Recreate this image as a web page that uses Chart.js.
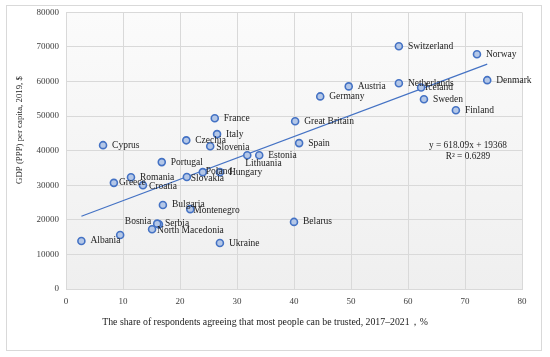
<!DOCTYPE html>
<html>
<head>
<meta charset="utf-8">
<script src="https://cdn.jsdelivr.net/npm/chart.js@4/dist/chart.umd.min.js"></script>
<style>
  html, body { margin: 0; padding: 0; background: #fff; }
  #wrap { width: 550px; height: 357px; }
</style>
</head>
<body>
<div id="wrap"><canvas id="myChart"></canvas></div>
<script>
const countries = ["Switzerland", "Norway", "Denmark", "Netherlands", "Iceland", "Austria", "Germany",
  "Sweden", "Finland", "France", "Great Britain", "Italy", "Czechia", "Slovenia", "Spain", "Cyprus",
  "Lithuania", "Estonia", "Portugal", "Poland", "Hungary", "Slovakia", "Romania", "Greece", "Croatia",
  "Bulgaria", "Montenegro", "Serbia", "Bosnia", "North Macedonia", "", "Albania", "Belarus", "Ukraine"];
const trust = [58.4, 72.1, 73.9, 58.4, 62.3, 49.6, 44.6, 62.8, 68.4, 26.1, 40.2, 26.5, 21.1, 25.3, 40.9, 6.5,
  31.8, 33.9, 16.8, 24.0, 27.0, 21.2, 11.4, 8.4, 13.5, 17.0, 21.8, 16.3, 16.0, 15.1, 9.5, 2.7, 40.0, 27.0];
const gdp = [70200, 67900, 60400, 59500, 58300, 58600, 55700, 54900, 51700, 49400, 48500, 44800, 43000, 41300,
  42200, 41600, 38700, 38700, 36700, 33800, 33800, 32400, 32300, 30700, 30000, 24300, 23100, 18700, 18900,
  17300, 15600, 13900, 19400, 13300];

// trendline as printed on the chart
const slope = 618.09;
const intercept = 19368;
const trendX = [2.7, 73.9];

const points = trust.map((x, i) => ({x: x, y: gdp[i], label: countries[i]}));
const trend = trendX.map(x => ({x: x, y: slope * x + intercept}));

const serif = "'Liberation Serif', 'DejaVu Serif', serif";

// label placement tweaks (dx, dy, align)
const labelPos = {
  "Bosnia": [-6, -2, "right"],
  "Lithuania": [-2, 8, "left"],
  "Slovakia": [4, 2, "left"],
  "Slovenia": [6, 1, "left"],
  "Serbia": [6, -1, "left"],
  "North Macedonia": [5, 1, "left"],
  "Croatia": [6, 1, "left"],
  "Greece": [5, 0, "left"],
  "Poland": [3, -1, "left"],
  "Montenegro": [3, 1, "left"],
  "Iceland": [4, 0, "left"]
};

const extras = {
  id: 'extras',
  beforeDraw(chart) {
    const ctx = chart.ctx;
    const a = chart.chartArea;
    ctx.save();
    ctx.strokeStyle = '#d9d9d9';
    ctx.lineWidth = 1;
    ctx.strokeRect(6.5, 5.5, 535, 345);
    const g = ctx.createLinearGradient(0, a.top, 0, a.bottom);
    g.addColorStop(0, '#fbfbfb');
    g.addColorStop(1, '#efefef');
    ctx.fillStyle = g;
    ctx.fillRect(a.left, a.top, a.right - a.left, a.bottom - a.top);
    ctx.restore();
  },
  afterDraw(chart) {
    const ctx = chart.ctx;
    const xs = chart.scales.x, ys = chart.scales.y;
    ctx.save();
    ctx.fillStyle = '#222';
    ctx.font = "9.5px " + serif;
    ctx.textBaseline = 'middle';
    points.forEach(p => {
      if (!p.label) return;
      const px = xs.getPixelForValue(p.x), py = ys.getPixelForValue(p.y);
      const pos = labelPos[p.label] || [9, 0, "left"];
      ctx.textAlign = pos[2];
      ctx.fillText(p.label, px + pos[0], py + pos[1]);
    });
    ctx.textAlign = 'center';
    ctx.font = "9.3px " + serif;
    ctx.fillText("y = 618.09x + 19368", 468, 146);
    ctx.fillText("R² = 0.6289", 468, 157);
    // axis titles
    ctx.font = "9.8px " + serif;
    ctx.fillText("The share of respondents agreeing that most people can be trusted, 2017–2021，%", 265, 322);
    ctx.font = "8.8px " + serif;
    ctx.translate(20, 130);
    ctx.rotate(-Math.PI / 2);
    ctx.fillText("GDP (PPP) per capita, 2019, $", 0, 0);
    ctx.restore();
  }
};

new Chart(document.getElementById('myChart'), {
  type: 'scatter',
  data: {
    datasets: [{
      label: 'countries',
      data: points,
      pointRadius: 3.5,
      pointBackgroundColor: '#b4c7e7',
      pointBorderColor: '#4472c4',
      pointBorderWidth: 1.6,
      showLine: false
    }, {
      type: 'line',
      label: 'trend',
      data: trend,
      borderColor: '#4472c4',
      borderWidth: 1.2,
      pointRadius: 0,
      fill: false
    }]
  },
  options: {
    responsive: true,
    maintainAspectRatio: false,
    animation: false,
    layout: {padding: {left: 0, right: 28, top: 12, bottom: 0}},
    plugins: {
      legend: {display: false},
      tooltip: {enabled: false}
    },
    scales: {
      x: {
        type: 'linear',
        min: 0, max: 80,
        ticks: {stepSize: 10, padding: 7, color: '#404040', font: {family: serif, size: 9}},
        grid: {color: '#d9d9d9', drawTicks: false},
        border: {color: '#d9d9d9'},
        afterFit(scale) { scale.height = 68; }
      },
      y: {
        type: 'linear',
        min: 0, max: 80000,
        ticks: {stepSize: 10000, padding: 7, color: '#404040', font: {family: serif, size: 9},
          callback: v => String(v)},
        grid: {color: '#d9d9d9', drawTicks: false},
        border: {color: '#d9d9d9'},
        afterFit(scale) { scale.width = 66; }
      }
    }
  },
  plugins: [extras]
});
</script>
</body>
</html>
